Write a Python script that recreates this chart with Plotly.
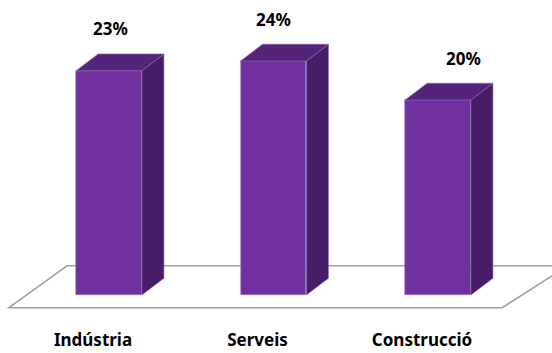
import plotly.graph_objects as go

# ---- data ----
categories = ["Indústria", "Serveis", "Construcció"]
values = [23, 24, 20]
value_labels = ["23%", "24%", "20%"]

# ---- style ----
FRONT = "#7030A0"
TOP = "#54237A"
SIDE = "#461D66"
FLOOR = "#A0A0A0"
BAR_W = 0.40      # bar width in category units
DX = 0.134        # depth offset (x, category units)
DY = 1.72         # depth offset (y, value units)
LABEL_XSHIFT = [1, 0, 25]
FONT = "Noto Sans"

xs = list(range(len(categories)))

fig = go.Figure()
fig.add_trace(go.Bar(
    x=xs, y=values, width=BAR_W, marker=dict(color=FRONT, line=dict(width=0.6, color="#9B7DBA")),
    hoverinfo="skip", showlegend=False,
))

# 3D top and side faces derived from the values
top_x, top_y, side_x, side_y = [], [], [], []
for x, v in zip(xs, values):
    l, r = x - BAR_W / 2, x + BAR_W / 2
    top_x += [l, r, r + DX, l + DX, l, None]
    top_y += [v, v, v + DY, v + DY, v, None]
    side_x += [r, r, r + DX, r + DX, r, None]
    side_y += [0, v, v + DY, DY, 0, None]

fig.add_trace(go.Scatter(x=side_x, y=side_y, fill="toself", fillcolor=SIDE, mode="lines",
                         line=dict(width=0.6, color="#8A6AAE"), hoverinfo="skip", showlegend=False))
fig.add_trace(go.Scatter(x=top_x, y=top_y, fill="toself", fillcolor=TOP, mode="lines",
                         line=dict(width=0.6, color="#8A6AAE"), hoverinfo="skip", showlegend=False))

# floor (axis wall) parallelogram
fig.add_shape(type="path", xref="x", yref="y", layer="below",
              path="M -0.608 -1.30 L -0.255 3.0 L 2.79 3.0 L 2.39 -1.30 Z",
              line=dict(color=FLOOR, width=1.6), fillcolor="rgba(0,0,0,0)")

for x, v, t, sh in zip(xs, values, value_labels, LABEL_XSHIFT):
    fig.add_annotation(x=x, y=v, text="<b>" + t + "</b>", showarrow=False, xshift=sh, yshift=42,
                       font=dict(family=FONT, size=17, color="#000000"))

fig.update_layout(
    width=552, height=353,
    margin=dict(l=0, r=0, t=0, b=40),
    paper_bgcolor="white", plot_bgcolor="white",
    font=dict(family=FONT, color="#000000"),
    bargap=0,
    xaxis=dict(range=[-0.6626, 2.693], tickmode="array", tickvals=xs,
               ticktext=["<b>" + c + "</b>" for c in categories],
               showgrid=False, zeroline=False, showline=False, ticks="", automargin=False,
               tickfont=dict(family=FONT, size=17, color="#000000"),
               ticklabelshift=-16, ticklabelstandoff=15),
    yaxis=dict(range=[-1.846, 30.256], visible=False, automargin=False),
)

fig.write_html("out.html")
